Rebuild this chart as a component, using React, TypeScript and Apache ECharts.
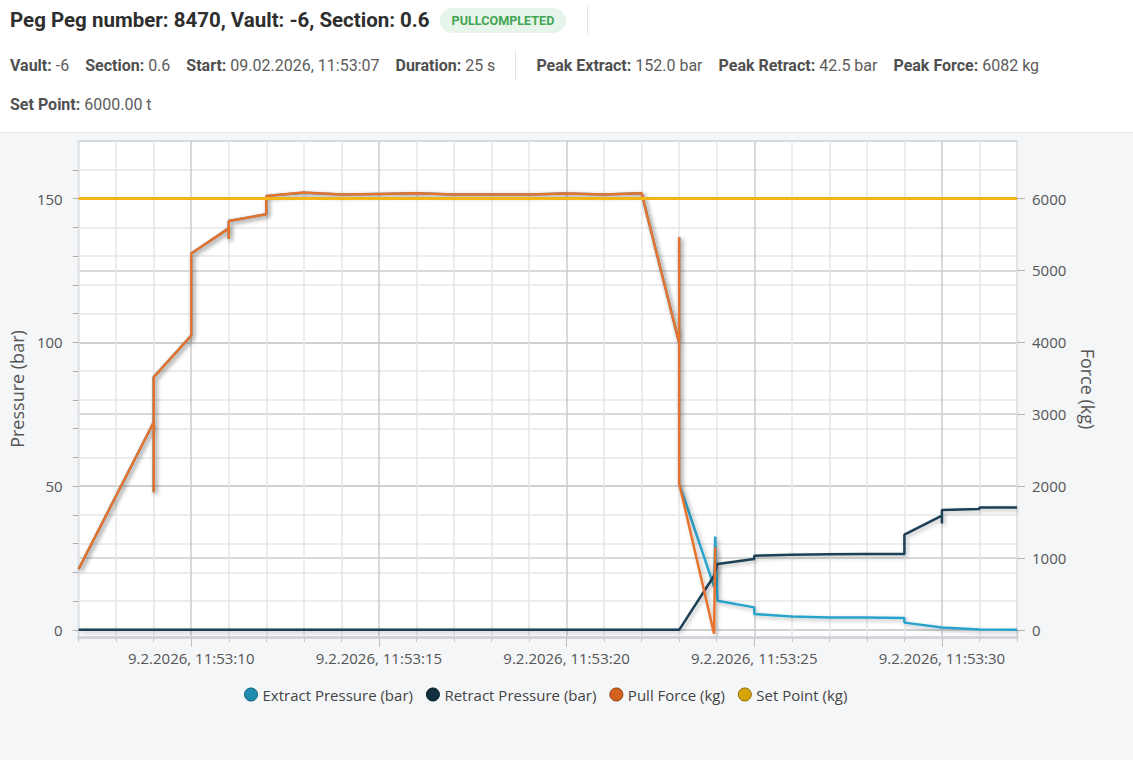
import React, { useEffect, useRef } from 'react';
import * as echarts from 'echarts';

// ---- data (seconds of minute 11:53, 09.02.2026) ----
const START_MS = Date.UTC(2026, 1, 9, 11, 53, 0);
const X_MIN_S = 7;
const X_MAX_S = 32;

const extractTimes = [7, 9, 9, 9, 10, 10, 11, 11, 11, 12, 12, 13, 14, 15, 16, 17, 18, 19, 20, 21, 22, 23, 23, 23, 23.93, 23.96, 24.02, 25, 25, 26, 27, 28, 29, 29, 30, 31, 32];
const extractBar = [21.1, 72.2, 47.8, 87.9, 102.3, 130.9, 139.6, 135.9, 142.2, 144.5, 150.9, 152.0, 151.4, 151.6, 151.8, 151.4, 151.4, 151.4, 151.7, 151.4, 151.8, 99.7, 136.6, 50.9, 15.0, 32.4, 10.1, 7.8, 5.5, 4.6, 4.3, 4.3, 4.1, 2.5, 0.8, 0.1, 0.0];

const retractTimes = [7, 23, 23.93, 24.02, 25, 25, 26, 27, 28, 29, 29, 30, 30, 30, 31, 31, 32];
const retractBar = [0, 0, 18.8, 22.9, 24.6, 25.8, 26.1, 26.3, 26.4, 26.4, 33.1, 39.7, 37.0, 41.7, 42.0, 42.5, 42.5];

const pullTimes = [7, 9, 9, 9, 10, 10, 11, 11, 11, 12, 12, 13, 14, 15, 16, 17, 18, 19, 20, 21, 22, 23, 23, 23, 23.93, 23.96];
const pullKg = [844, 2888, 1912, 3516, 4092, 5236, 5584, 5436, 5688, 5780, 6036, 6082, 6056, 6064, 6072, 6056, 6056, 6056, 6068, 6056, 6072, 3988, 5464, 2036, -55, 1147];

const setPointTimes = [7, 32];
const setPointKg = [6000, 6000];

const pressureTicks = [0, 10, 20, 30, 40, 50, 60, 70, 80, 90, 100, 110, 120, 130, 140, 150, 160];
const pressureLabels = [0, 50, 100, 150];
const forceTicks = [0, 1000, 2000, 3000, 4000, 5000, 6000];
const timeMajorSeconds = [10, 15, 20, 25, 30];

const FONT = '"Open Sans", sans-serif';

const ms = (s: number) => START_MS + Math.round(s * 1000);
const pad = (n: number) => (n < 10 ? '0' + n : '' + n);
const fmtTime = (v: number) => {
  const d = new Date(v);
  return `${d.getUTCDate()}.${d.getUTCMonth() + 1}.${d.getUTCFullYear()}, ${pad(d.getUTCHours())}:${pad(d.getUTCMinutes())}:${pad(d.getUTCSeconds())}`;
};
const pairs = (t: number[], v: number[]) => t.map((s, i) => [ms(s), v[i]]);

const shadow = { shadowColor: 'rgba(0,0,0,0.28)', shadowBlur: 4, shadowOffsetX: 2, shadowOffsetY: 2 };

const ChartView = () => {
  const ref = useRef<HTMLDivElement>(null);
  useEffect(() => {
    if (!ref.current) return;
    const chart = echarts.init(ref.current, undefined, { renderer: 'svg' });
    const light = '#e6e6e6';
    const dark = '#cdcdcd';
    chart.setOption({
      animation: false,
      backgroundColor: 'transparent',
      textStyle: { fontFamily: FONT },
      grid: {
        left: 77, right: 116, top: 8, bottom: 123,
        show: true, backgroundColor: '#ffffff', borderColor: '#d3dbe3', borderWidth: 2,
      },
      legend: {
        top: 549, left: 239, icon: 'circle', itemWidth: 13, itemHeight: 13, itemGap: 13,
        textStyle: { fontSize: 15, color: '#444', fontFamily: FONT },
        data: [
          { name: 'Extract Pressure (bar)', itemStyle: { color: '#1f8cad', borderColor: '#13607a', borderWidth: 1 } },
          { name: 'Retract Pressure (bar)', itemStyle: { color: '#10303f', borderColor: '#061a24', borderWidth: 1 } },
          { name: 'Pull Force (kg)', itemStyle: { color: '#d4621f', borderColor: '#8f3e10', borderWidth: 1 } },
          { name: 'Set Point (kg)', itemStyle: { color: '#d7a30a', borderColor: '#8c6a05', borderWidth: 1 } },
        ],
      },
      xAxis: [
        {
          type: 'value', position: 'bottom', min: ms(X_MIN_S), max: ms(X_MAX_S), interval: 1000,
          axisLine: { show: true, onZero: false, lineStyle: { color: '#d3d7db', width: 3 } },
          axisTick: { show: true, length: 5, lineStyle: { color: '#c8c8c8' } },
          axisLabel: {
            customValues: timeMajorSeconds.map(ms), formatter: (v: number) => fmtTime(v),
            fontSize: 15, color: '#555', margin: 13, fontFamily: FONT,
          },
          splitLine: { show: true, lineStyle: { color: [light, light, light, dark, light], width: 1.5 } },
        },
        {
          type: 'value', position: 'bottom', min: ms(X_MIN_S), max: ms(X_MAX_S),
          axisLine: { show: false, onZero: false },
          axisTick: { show: true, length: 10, customValues: timeMajorSeconds.map(ms), lineStyle: { color: '#c0c0c0' } },
          axisLabel: { show: false },
          splitLine: { show: false },
        },
      ],
      yAxis: [
        {
          type: 'value', position: 'left', min: -2.5, max: 170,
          name: 'Pressure (bar)', nameLocation: 'middle', nameGap: 47,
          nameTextStyle: { fontSize: 18, color: '#555', fontFamily: FONT },
          axisLine: { show: false },
          axisTick: { show: true, length: 6, customValues: pressureTicks, lineStyle: { color: '#b0b0b0' } },
          axisLabel: { customValues: pressureLabels, formatter: (v: number) => String(v), fontSize: 15, color: '#555', margin: 16, fontFamily: FONT },
          splitLine: { show: true, lineStyle: { color: [dark, light, light, light, light], width: 1.5 } },
        },
        {
          type: 'value', position: 'right', min: -100, max: 6800,
          name: 'Force (kg)', nameLocation: 'middle', nameGap: 62, nameRotate: -90,
          nameTextStyle: { fontSize: 18, color: '#555', fontFamily: FONT },
          axisLine: { show: false },
          axisTick: { show: true, length: 8, customValues: forceTicks, lineStyle: { color: '#b0b0b0' } },
          axisLabel: { customValues: forceTicks, formatter: (v: number) => String(v), fontSize: 15, color: '#555', margin: 15, fontFamily: FONT },
          splitLine: { show: true, lineStyle: { color: dark, width: 1.5 } },
        },
      ],
      series: [
        {
          name: 'Extract Pressure (bar)', type: 'line', xAxisIndex: 0, yAxisIndex: 0,
          data: pairs(extractTimes, extractBar), symbol: 'none', showSymbol: false,
          lineStyle: { color: '#2ba3cb', width: 2.5, ...shadow },
          itemStyle: { color: '#1f8cad' },
        },
        {
          name: 'Retract Pressure (bar)', type: 'line', xAxisIndex: 0, yAxisIndex: 0,
          data: pairs(retractTimes, retractBar), symbol: 'none', showSymbol: false,
          lineStyle: { color: '#1d3f55', width: 2.5, ...shadow },
          itemStyle: { color: '#10303f' },
        },
        {
          name: 'Pull Force (kg)', type: 'line', xAxisIndex: 0, yAxisIndex: 1,
          data: pairs(pullTimes, pullKg), symbol: 'none', showSymbol: false,
          lineStyle: { color: '#e6722e', width: 2.5, ...shadow },
          itemStyle: { color: '#d4621f' },
        },
        {
          name: 'Set Point (kg)', type: 'line', xAxisIndex: 0, yAxisIndex: 1,
          data: pairs(setPointTimes, setPointKg), symbol: 'none', showSymbol: false,
          lineStyle: { color: '#f2b518', width: 3 },
          itemStyle: { color: '#d7a30a' },
        },
      ],
    });
    return () => chart.dispose();
  }, []);
  return <div ref={ref} style={{ position: 'absolute', left: 0, top: 133, width: 1133, height: 627, background: '#f4f6f8' }} />;
};

const Item = ({ label, value }: { label: string; value: string }) => (
  <span style={{ marginRight: 16, whiteSpace: 'nowrap' }}>
    <span style={{ fontWeight: 700, color: '#505050' }}>{label}</span>
    <span style={{ color: '#5c5c5c' }}> {value}</span>
  </span>
);

export default function App() {
  useEffect(() => {
    document.body.style.margin = '0';
  }, []);
  return (
    <div style={{ position: 'relative', width: 1133, height: 777, background: '#fff', fontFamily: 'Roboto, sans-serif', overflow: 'hidden' }}>
      <div style={{ position: 'absolute', left: 0, top: 0, width: 1133, height: 132, borderBottom: '1px solid #e4e7ea', background: '#fff' }}>
        <div style={{ position: 'absolute', left: 10, top: 6, height: 28, display: 'flex', alignItems: 'center' }}>
          <span style={{ fontSize: 20.5, fontWeight: 700, color: '#2e2e2e', whiteSpace: 'nowrap' }}>Peg Peg number: 8470, Vault: -6, Section: 0.6</span>
          <span style={{ marginLeft: 10, height: 25, lineHeight: '25px', padding: '0 12px', borderRadius: 13, background: '#e7f4ea', color: '#43a553', fontSize: 12.6, fontWeight: 700 }}>PULLCOMPLETED</span>
          <span style={{ marginLeft: 21, width: 1, height: 30, background: '#e6e6e6' }} />
        </div>
        <div style={{ position: 'absolute', left: 10, top: 55, height: 20, display: 'flex', alignItems: 'center', fontSize: 16 }}>
          <Item label="Vault:" value="-6" />
          <Item label="Section:" value="0.6" />
          <Item label="Start:" value="09.02.2026, 11:53:07" />
          <Item label="Duration:" value="25 s" />
          <span style={{ width: 1, height: 30, background: '#e6e6e6', marginLeft: 4, marginRight: 20 }} />
          <Item label="Peak Extract:" value="152.0 bar" />
          <Item label="Peak Retract:" value="42.5 bar" />
          <Item label="Peak Force:" value="6082 kg" />
        </div>
        <div style={{ position: 'absolute', left: 10, top: 94, height: 20, display: 'flex', alignItems: 'center', fontSize: 16 }}>
          <Item label="Set Point:" value="6000.00 t" />
        </div>
      </div>
      <ChartView />
    </div>
  );
}
